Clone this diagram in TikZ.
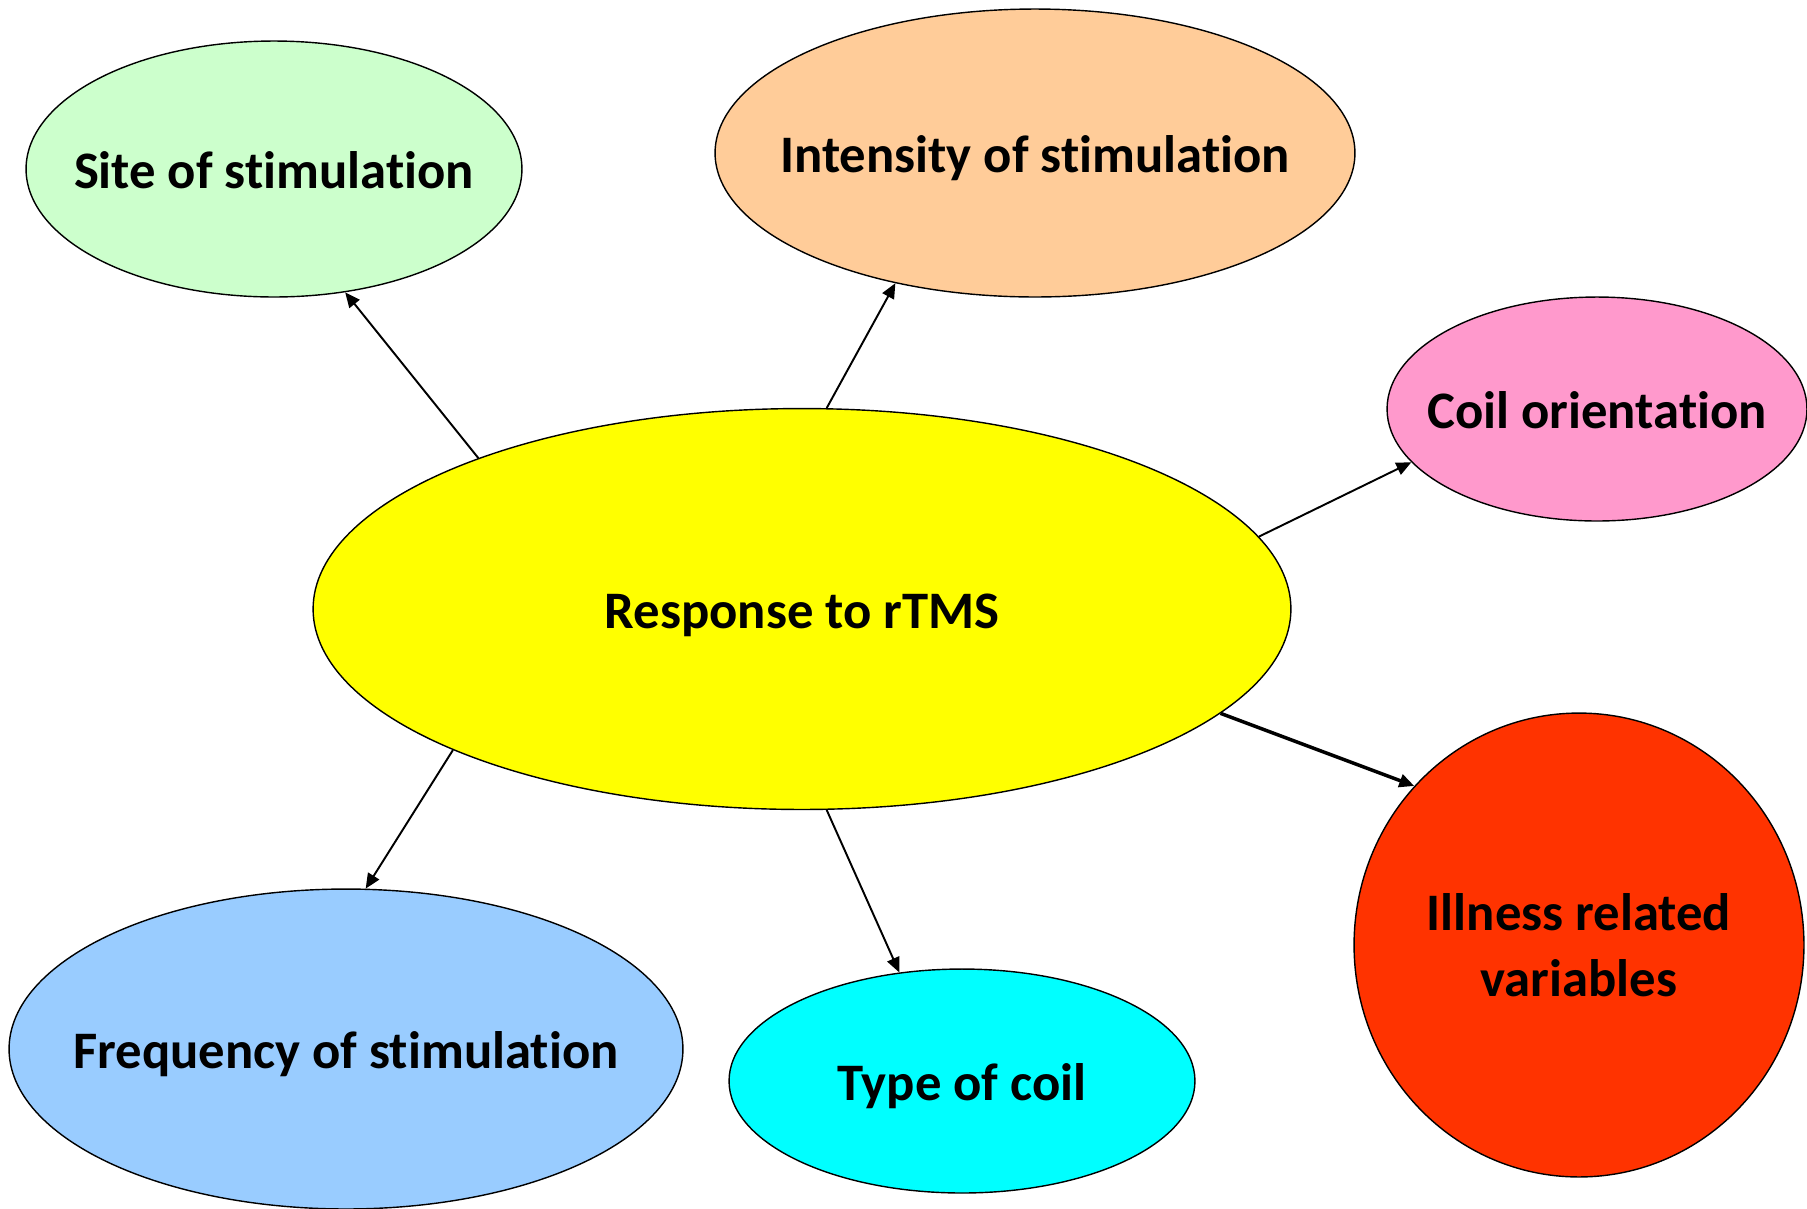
\documentclass[tikz,border=0pt]{standalone}
\usepackage{fontspec}
\setmainfont[Ligatures=NoCommon]{Carlito}
\usepackage{tikz}
\usetikzlibrary{positioning,arrows.meta,shapes.geometric}

\definecolor{siteGreen}{HTML}{CCFFCC}
\definecolor{intensOrange}{HTML}{FFCC99}
\definecolor{coilPink}{HTML}{FF99CC}
\definecolor{respYellow}{HTML}{FFFF00}
\definecolor{illRed}{HTML}{FF3300}
\definecolor{freqBlue}{HTML}{99CCFF}
\definecolor{typeCyan}{HTML}{00FFFF}

\begin{document}
\begin{tikzpicture}[
  x=0.02cm, y=-0.02cm,
  factor/.style={ellipse, draw, line width=0.8pt, inner xsep=-3cm, inner ysep=0pt,
                 font=\fontsize{30}{37.5}\selectfont\bfseries, align=center},
  oneline/.style={text height=23pt, text depth=1pt},
  link/.style={line width=1.1pt, -{Triangle[length=0.3cm, width=0.26cm]}},
  >=Stealth
]
  \useasboundingbox (0,0) rectangle (1807,1208);

  % Central factor
  \node[factor, oneline, fill=respYellow, minimum width=19.56cm, minimum height=8.02cm]
    (resp) at (802,609) {Response to rTMS};

  % Surrounding factors
  \node[factor, oneline, fill=siteGreen, minimum width=9.92cm, minimum height=5.12cm]
    (site) at (274,169) {Site of stimulation};
  \node[factor, oneline, fill=intensOrange, minimum width=12.8cm, minimum height=5.76cm]
    (intens) at (1035,153) {Intensity of stimulation};
  \node[factor, oneline, fill=coilPink, minimum width=8.4cm, minimum height=4.48cm]
    (coil) at (1597,409) {Coil orientation};
  \node[factor, fill=illRed, minimum width=9cm, minimum height=9.28cm]
    (ill) at (1579,945) {Illness related\\variables};
  \node[factor, oneline, fill=freqBlue, minimum width=13.48cm, minimum height=6.4cm]
    (freq) at (346,1049) {Frequency of stimulation};
  \node[factor, oneline, fill=typeCyan, minimum width=9.32cm, minimum height=4.48cm]
    (type) at (962,1081) {Type of coil};

  % Links out of the centre
  \draw[link] (resp.155.1) -- (site.-60.2);
  \draw[link] (resp.83.2) -- (intens.-137.9);
  \draw[link] (resp.9.06) -- (coil.-164.5);
  \draw[link, line width=2pt] (resp.-14.4) -- (ill.136.8);
  \draw[link] (resp.-158.1) -- (freq.83.6);
  \draw[link] (resp.-83.2) -- (type.120.2);
\end{tikzpicture}
\end{document}
